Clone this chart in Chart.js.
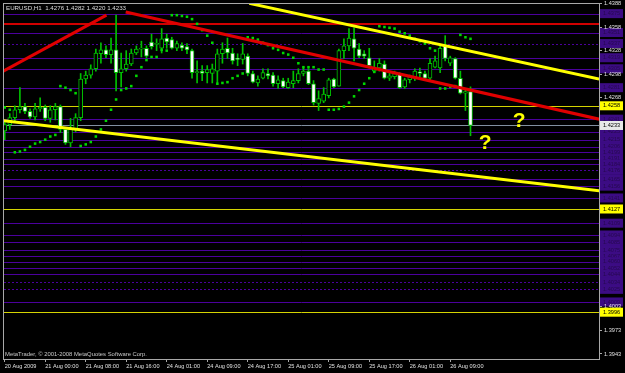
<!DOCTYPE html>
<html>
<head>
<meta charset="utf-8">
<title>EURUSD,H1</title>
<script src="https://cdn.jsdelivr.net/npm/chart.js@4.4.1/dist/chart.umd.min.js"></script>
<style>
  html, body { margin: 0; padding: 0; background: #000; }
  #chart { display: block; }
</style>
</head>
<body>
<canvas id="chart" width="625" height="373"></canvas>
<script>
// one bar per hour, bar 0 = 20 Aug 2009 16:00
const xTickIndex = [0, 8, 16, 24, 32, 40, 48, 56, 64, 72, 80, 88]
const xTickLabels = ['20 Aug 2009', '21 Aug 00:00', '21 Aug 08:00', '21 Aug 16:00', '24 Aug 01:00', '24 Aug 09:00',
  '24 Aug 17:00', '25 Aug 01:00', '25 Aug 09:00', '25 Aug 17:00', '26 Aug 01:00', '26 Aug 09:00']
const yTickValues = [1.4388, 1.4358, 1.4328, 1.4298, 1.4268, 1.4003, 1.3973, 1.3943]

const opens = [
  1.4226,1.4234,1.4243,1.4253,1.4257,1.4251,1.4244,1.4254,1.4256,1.4242,
  1.4253,1.4257,1.4228,1.4211,1.4228,1.4243,1.4292,1.4297,1.4305,1.4324,
  1.4329,1.4323,1.4329,1.4300,1.4305,1.4311,1.4325,1.4330,1.4331,1.4339,
  1.4336,1.4331,1.4344,1.4342,1.4331,1.4335,1.4333,1.4328,1.4300,1.4302,
  1.4300,1.4299,1.4302,1.4324,1.4331,1.4325,1.4318,1.4317,1.4321,1.4299,
  1.4287,1.4293,1.4299,1.4297,1.4286,1.4290,1.4281,1.4286,1.4290,1.4299,
  1.4302,1.4286,1.4261,1.4264,1.4271,1.4292,1.4283,1.4328,1.4334,1.4343,
  1.4330,1.4324,1.4319,1.4302,1.4306,1.4311,1.4293,1.4295,1.4299,1.4282,
  1.4291,1.4293,1.4301,1.4299,1.4293,1.4307,1.4306,1.4334,1.4312,1.4318,
  1.4293,1.4274,1.4276]
const highs = [
  1.4240,1.4248,1.4258,1.4281,1.4261,1.4254,1.4261,1.4268,1.4259,1.4258,
  1.4261,1.4259,1.4230,1.4242,1.4248,1.4299,1.4302,1.4310,1.4330,1.4338,
  1.4334,1.4344,1.4373,1.4325,1.4328,1.4330,1.4334,1.4340,1.4334,1.4349,
  1.4343,1.4356,1.4349,1.4345,1.4340,1.4338,1.4337,1.4330,1.4315,1.4309,
  1.4309,1.4311,1.4330,1.4338,1.4344,1.4331,1.4324,1.4337,1.4324,1.4302,
  1.4296,1.4305,1.4305,1.4300,1.4296,1.4293,1.4293,1.4302,1.4305,1.4306,
  1.4305,1.4290,1.4277,1.4281,1.4293,1.4293,1.4330,1.4343,1.4356,1.4357,
  1.4337,1.4328,1.4331,1.4315,1.4318,1.4315,1.4300,1.4302,1.4300,1.4293,
  1.4297,1.4305,1.4306,1.4302,1.4318,1.4321,1.4334,1.4347,1.4321,1.4319,
  1.4302,1.4280,1.4282]
const lows = [
  1.4215,1.4228,1.4239,1.4249,1.4248,1.4242,1.4240,1.4251,1.4239,1.4237,
  1.4240,1.4224,1.4209,1.4206,1.4225,1.4239,1.4286,1.4293,1.4302,1.4312,
  1.4319,1.4312,1.4277,1.4282,1.4302,1.4309,1.4323,1.4320,1.4319,1.4330,
  1.4328,1.4325,1.4331,1.4330,1.4328,1.4328,1.4324,1.4293,1.4287,1.4290,
  1.4287,1.4287,1.4287,1.4312,1.4318,1.4311,1.4309,1.4311,1.4296,1.4287,
  1.4283,1.4292,1.4292,1.4283,1.4280,1.4281,1.4280,1.4281,1.4287,1.4296,
  1.4285,1.4259,1.4252,1.4262,1.4268,1.4281,1.4283,1.4318,1.4328,1.4315,
  1.4319,1.4318,1.4306,1.4300,1.4302,1.4292,1.4290,1.4292,1.4280,1.4280,
  1.4287,1.4290,1.4295,1.4290,1.4290,1.4306,1.4300,1.4315,1.4309,1.4292,
  1.4273,1.4252,1.4220]
const closes = [
  1.4234,1.4243,1.4253,1.4257,1.4251,1.4244,1.4254,1.4256,1.4242,1.4253,
  1.4257,1.4228,1.4211,1.4228,1.4243,1.4292,1.4297,1.4305,1.4325,1.4329,
  1.4323,1.4329,1.4300,1.4305,1.4311,1.4325,1.4330,1.4331,1.4321,1.4333,
  1.4337,1.4343,1.4339,1.4331,1.4337,1.4331,1.4329,1.4300,1.4301,1.4299,
  1.4304,1.4305,1.4324,1.4330,1.4325,1.4315,1.4317,1.4324,1.4299,1.4288,
  1.4292,1.4300,1.4296,1.4286,1.4291,1.4282,1.4288,1.4290,1.4299,1.4302,
  1.4286,1.4262,1.4267,1.4273,1.4291,1.4282,1.4328,1.4334,1.4344,1.4331,
  1.4321,1.4321,1.4309,1.4306,1.4312,1.4293,1.4296,1.4299,1.4281,1.4291,
  1.4295,1.4302,1.4299,1.4293,1.4312,1.4315,1.4331,1.4318,1.4319,1.4293,
  1.4274,1.4276,1.4233]
// parabolic SAR dots
const sar = [
  1.4256,1.4253,1.4199,1.4200,1.4202,1.4206,1.4210,1.4212,1.4215,1.4219,
  1.4221,1.4283,1.4281,1.4278,1.4274,1.4207,1.4209,1.4212,1.4219,1.4228,
  1.4239,1.4253,1.4266,1.4278,1.4280,1.4283,1.4296,1.4307,1.4316,1.4320,
  1.4320,1.4329,1.4328,1.4373,1.4373,1.4372,1.4371,1.4368,1.4362,1.4354,
  1.4347,1.4338,1.4286,1.4287,1.4288,1.4293,1.4296,1.4299,1.4345,1.4344,
  1.4342,1.4338,1.4335,1.4331,1.4329,1.4325,1.4323,1.4319,1.4312,1.4307,
  1.4307,1.4307,1.4304,1.4304,1.4253,1.4253,1.4254,1.4257,1.4262,1.4270,
  1.4278,1.4286,1.4293,1.4301,1.4359,1.4358,1.4357,1.4356,1.4352,1.4350,
  1.4347,1.4343,1.4340,1.4337,1.4331,1.4328,1.4280,1.4280,1.4282,1.4283,
  1.4348,1.4345,1.4343]

// horizontal lines
const purpleLevels = [1.4375, 1.4351, 1.4319, 1.4305, 1.4281, 1.4241, 1.4225, 1.4215, 1.4206, 1.4199, 1.4191,
  1.4184, 1.4165, 1.4156, 1.4141, 1.4109, 1.4094, 1.4085, 1.4075, 1.4067, 1.4060, 1.4052, 1.4044, 1.4009]
const purpleDotted = [1.4337, 1.4176, 1.4034, 1.4025]
const yellowLevels = [1.4258, 1.4127, 1.3996]
const redLevels = [1.4362]
const bidPrice = 1.4233

// trend lines [bar, price]
const redUp = [[-0.3, 1.4302], [20.1, 1.4373]]
const redDown = [[23.9, 1.4377], [117.4, 1.4241]]
const yellowUp = [[48.3, 1.4388], [117.4, 1.4292]]
const yellowDown = [[-0.3, 1.4239], [117.4, 1.4150]]
const questionMarks = [[94.9, 1.4211], [101.6, 1.4238]]

const GREEN = '#00c000'
const PURPLE = '#4b009c'
const FONT = 'Liberation Sans'

const pts = arr => arr.map(p => ({x: p[0], y: p[1]}))

const overlay = {
  id: 'overlay',
  beforeDraw(chart) {
    const ctx = chart.ctx
    const y = chart.scales.y
    const right = chart.chartArea.right
    ctx.save()
    ctx.fillStyle = '#000'
    ctx.fillRect(0, 0, chart.width, chart.height)
    ctx.font = '5.6px "' + FONT + '"'
    ctx.textBaseline = 'middle'
    purpleLevels.concat(purpleDotted).forEach(p => {
      const py = y.getPixelForValue(p)
      ctx.fillStyle = '#3c0c84'
      ctx.fillRect(right + 1, py - 4.5, 23, 9)
      ctx.fillStyle = '#26094f'
      ctx.fillText(p.toFixed(4), right + 4, py)
    })
    ctx.restore()
  },
  beforeDatasetsDraw(chart) {
    const ctx = chart.ctx
    const a = chart.chartArea
    const y = chart.scales.y
    ctx.save()
    ctx.beginPath()
    ctx.rect(a.left, a.top, a.width, a.height)
    ctx.clip()
    const hline = (p, color, width, dash) => {
      const py = Math.round(y.getPixelForValue(p)) + (width % 2 ? 0.5 : 0)
      ctx.strokeStyle = color
      ctx.lineWidth = width
      ctx.setLineDash(dash || [])
      ctx.beginPath()
      ctx.moveTo(a.left, py)
      ctx.lineTo(a.right, py)
      ctx.stroke()
    }
    purpleLevels.forEach(p => hline(p, PURPLE, 1))
    purpleDotted.forEach(p => hline(p, PURPLE, 1, [2, 2]))
    yellowLevels.forEach(p => hline(p, '#d4d400', 1))
    redLevels.forEach(p => hline(p, '#d00000', 2))
    hline(bidPrice, '#8290a0', 1)
    ctx.restore()
  },
  afterDraw(chart) {
    const ctx = chart.ctx
    const a = chart.chartArea
    const x = chart.scales.x
    const y = chart.scales.y
    ctx.save()
    // frame
    ctx.strokeStyle = '#a8a8a8'
    ctx.lineWidth = 1
    ctx.strokeRect(a.left - 0.5, a.top - 0.5, a.width + 1, a.height + 1)
    // price boxes
    ctx.font = '5.6px "' + FONT + '"'
    ctx.textBaseline = 'middle'
    const box = (p, bg, fg) => {
      const py = y.getPixelForValue(p)
      ctx.fillStyle = bg
      ctx.fillRect(a.right + 1, py - 4.5, 23, 9)
      ctx.fillStyle = fg
      ctx.fillText(p.toFixed(4), a.right + 4, py)
    }
    yellowLevels.forEach(p => box(p, '#ffff00', '#000'))
    box(bidPrice, '#e8e8e8', '#000')
    // header and footer
    ctx.fillStyle = '#dcdcdc'
    ctx.font = '6.2px "' + FONT + '"'
    ctx.fillText('EURUSD,H1  1.4276 1.4282 1.4220 1.4233', a.left + 2, a.top + 4)
    ctx.font = '5.9px "' + FONT + '"'
    ctx.fillStyle = '#c8c8c8'
    ctx.fillText('MetaTrader, \u00a9 2001-2008 MetaQuotes Software Corp.', a.left + 1, a.bottom - 5)
    // question marks
    ctx.fillStyle = '#ffff00'
    ctx.font = 'bold 21px "' + FONT + '"'
    ctx.textAlign = 'center'
    questionMarks.forEach(q => ctx.fillText('?', x.getPixelForValue(q[0]), y.getPixelForValue(q[1])))
    ctx.restore()
  }
}

const bars = opens.map((o, i) => i)

const chart = new Chart(document.getElementById('chart'), {
  type: 'bar',
  data: {
    datasets: [
      {
        label: 'wick',
        data: bars.map(i => ({x: i, y: [lows[i], highs[i]]})),
        backgroundColor: GREEN,
        barThickness: 1,
        grouped: false,
        order: 4
      },
      {
        label: 'body',
        data: bars.map(i => ({x: i, y: [opens[i], closes[i]]})),
        backgroundColor: bars.map(i => closes[i] < opens[i] ? '#ffffff' : '#000000'),
        borderColor: GREEN,
        borderWidth: 1,
        borderSkipped: false,
        barThickness: 4,
        minBarLength: 1,
        grouped: false,
        order: 3
      },
      {
        type: 'line', label: 'sar',
        data: bars.map(i => ({x: i, y: sar[i]})),
        showLine: false, pointStyle: 'rect', pointRadius: 1.8,
        pointBackgroundColor: '#00d800', pointBorderWidth: 0, order: 2
      },
      {type: 'line', data: pts(redUp), borderColor: '#e00000', borderWidth: 3, pointRadius: 0, order: 1},
      {type: 'line', data: pts(redDown), borderColor: '#e00000', borderWidth: 3, pointRadius: 0, order: 1},
      {type: 'line', data: pts(yellowUp), borderColor: '#ffff00', borderWidth: 3, pointRadius: 0, order: 1},
      {type: 'line', data: pts(yellowDown), borderColor: '#ffff00', borderWidth: 3, pointRadius: 0, order: 1}
    ]
  },
  options: {
    responsive: false,
    animation: false,
    devicePixelRatio: 1,
    layout: {padding: {left: 2, top: 3, right: 0, bottom: 0}},
    plugins: {legend: {display: false}, tooltip: {enabled: false}},
    scales: {
      x: {
        type: 'linear',
        min: -0.14,
        max: 117.38,
        offset: false,
        grid: {display: true, offset: false, drawOnChartArea: false, drawTicks: true, tickLength: 3, color: '#a8a8a8'},
        border: {display: false},
        afterBuildTicks: s => { s.ticks = xTickIndex.map(v => ({value: v})) },
        afterFit: s => { s.height = 14; s.paddingLeft = 0; s.paddingRight = 0 },
        ticks: {
          autoSkip: false, maxRotation: 0, align: 'start', padding: 1,
          color: '#e0e0e0', font: {family: FONT, size: 5.6},
          callback: v => xTickLabels[xTickIndex.indexOf(v)] || ''
        }
      },
      y: {
        position: 'right',
        min: 1.39366,
        max: 1.43872,
        grid: {display: true, drawOnChartArea: false, drawTicks: true, tickLength: 3, color: '#a8a8a8'},
        border: {display: false},
        afterBuildTicks: s => { s.ticks = yTickValues.map(v => ({value: v})) },
        afterFit: s => { s.width = 26; s.paddingTop = 0; s.paddingBottom = 0 },
        ticks: {
          padding: 2, color: '#e0e0e0', font: {family: FONT, size: 5.6},
          callback: v => v.toFixed(4)
        }
      }
    }
  },
  plugins: [overlay]
})
</script>
</body>
</html>
